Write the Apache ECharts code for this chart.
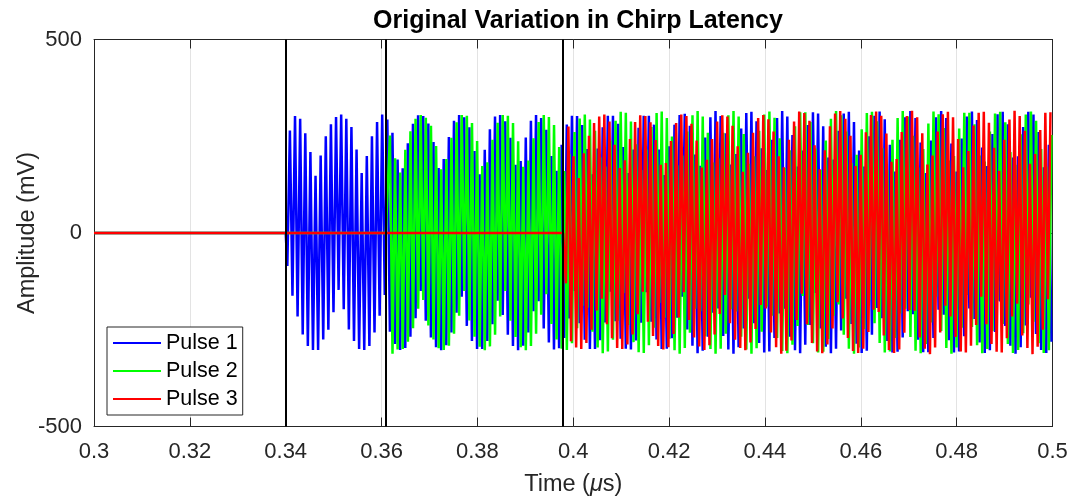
<!DOCTYPE html>
<html>
<head>
<meta charset="utf-8">
<script src="https://cdn.jsdelivr.net/npm/echarts@6/dist/echarts.min.js"></script>
<style>
  html, body { margin: 0; padding: 0; background: #fff; }
  #chart { width: 1073px; height: 496px; }
</style>
</head>
<body>
<div id="chart"></div>
<script>
const seriesNames = ['Pulse 1', 'Pulse 2', 'Pulse 3'];
const seriesColors = ['#0000ff', '#00ff00', '#ff0000'];

// pulse onsets (black markers) and time of the first extremum of each pulse, in us
const pulseStart = [0.34, 0.3609, 0.3979];
const firstExtremum = [0.34034, 0.36175, 0.39846];
// spacing between successive extrema (half a carrier period)
const halfPeriod = 0.000535;

const xTickLabels = ['0.3', '0.32', '0.34', '0.36', '0.38', '0.4', '0.42', '0.44', '0.46', '0.48', '0.5'];
const yTickLabels = ['-500', '0', '500'];

// successive extrema (mV), trough first
const pulse1 = [
  -85,265, -162,302, -216,295, -262,258, -292,209, -302,148, -302,200, -275,250, -250,281, -205,300,
  -147,306, -197,295, -249,274, -279,216, -300,155, -302,199, -292,250, -257,287, -214,306, -160,293,
  -255,259, -287,190, -302,167, -297,232, -268,282, -220,304, -150,302, -227,283, -270,235, -295,168,
  -303,191, -290,248, -257,290, -206,305, -165,299, -240,273, -279,212, -300,152, -300,215, -279,268,
  -236,301, -175,305, -212,289, -263,246, -292,176, -303,186, -291,247, -257,290, -202,305, -176,297,
  -247,267, -283,199, -301,161, -298,228, -271,280, -221,303, -150,302, -233,279, -276,217, -300,152,
  -300,218, -277,273, -231,303, -152,303, -228,282, -273,222, -299,155, -301,216, -278,272, -232,303,
  -153,303, -229,280, -275,216, -300,150, -299,224, -272,280, -219,305, -165,308, -249,277, -291,203,
  -311,174, -304,247, -268,299, -206,315, -195,302, -266,258, -301,177, -312,204, -295,270, -247,310,
  -170,313, -233,289, -284,219, -309,163, -306,241, -271,297, -208,315, -196,301, -268,253, -303,172,
  -311,213, -289,279, -238,312, -155,309, -247,276, -294,195, -311,190, -299,264, -252,309, -170,313,
  -235,287, -286,213, -310,172, -304,250, -263,303, -194,314, -220,294, -279,228, -309,159, -307,241,
  -270,299, -202,315, -210,297, -276,234, -308,155, -308,239, -271,299, -198,315, -211,297, -277,231,
  -309,159, -306,244, -267,301, -195,314, -222,292, -283,221, -310,173, -303,256, -256,307, -177,313,
  -240,281, -291,195, -312,198, -295,274, -239,313, -167,306, -261,261, -302,170, -310,228, -281
];

// peak first
const pulse2 = [
  252,-312, 193,-301, 156,-300, 215,-281, 263,-246, 295,-196, 305,-173, 298,-239, 277,-275, 225,-298,
  165,-302, 191,-291, 246,-260, 286,-214, 305,-150, 303,-226, 284,-268, 238,-294, 173,-303, 183,-293,
  241,-263, 285,-216, 305,-150, 303,-227, 284,-269, 237,-295, 171,-303, 187,-292, 245,-260, 287,-211,
  305,-158, 300,-235, 279,-275, 222,-299, 160,-302, 205,-285, 261,-246, 296,-188, 306,-193, 293,-255,
  264,-296, 196,-311, 172,-306, 239,-276, 290,-227, 313,-155, 311,-238, 288,-282, 229,-308, 163,-310,
  216,-290, 274,-245, 310,-181, 314,-219, 297,-273, 249,-303, 175,-312, 200,-297, 262,-258, 304,-196,
  315,-202, 301,-267, 259,-300, 182,-312, 193,-299, 259,-260, 304,-197, 315,-203, 301,-268, 256,-301,
  179,-312, 198,-298, 264,-255, 306,-190, 314,-214, 298,-271, 245,-305, 168,-311, 214,-289, 276,-240,
  312,-163, 312,-238, 287,-285, 218,-309, 163,-307, 239,-274, 295,-214, 315,-185, 304,-263, 262,-299,
  181,-312, 202,-296, 268,-248, 310,-173, 313,-233, 289,-284, 219,-309, 163,-306, 241,-271, 297,-208,
  315,-196, 301,-269, 251,-304, 169,-311, 217,-287, 283,-231, 314,-165, 307,-253, 271,-297, 187,-312,
  199,-296, 270,-245, 311,-160, 311,-243, 281,-290, 200,-311, 185,-300, 262,-253, 309,-175, 313,-235,
  286,-287, 209,-310, 176,-302, 255,-259, 306,-185, 314,-229, 290,-285, 217,-310, 172,-303, 253
];

// trough first
const pulse3 = [
  -130,275, -280,198, -296,142, -300,206, -284,251, -250,284, -200,301, -170,306, -236,288, -272,228,
  -297,168, -300,188, -288,243, -262,287, -210,304, -152,302, -229,286, -266,240, -292,176, -301,181,
  -295,238, -261,284, -218,306, -153,302, -225,282, -270,239, -293,169, -302,189, -290,243, -262,288,
  -209,304, -160,301, -233,277, -276,224, -297,158, -303,207, -283,259, -248,297, -186,305, -195,294,
  -257,262, -295,198, -312,170, -304,241, -278,288, -225,314, -157,310, -236,290, -284,227, -306,165,
  -311,214, -288,276, -247,309, -179,315, -221,295, -271,251, -305,173, -310,202, -299,260, -256,305,
  -198,314, -204,303, -265,257, -302,184, -310,191, -301,261, -258,302, -199,316, -201,299, -270,258,
  -299,177, -313,200, -296,262, -257,307, -188,313, -216,299, -269,243, -306,170, -309,212, -291,278,
  -238,311, -165,313, -236,285, -287,220, -307,161, -309,241, -272,293, -216,316, -183,302, -265,264,
  -297,179, -313,204, -294,266, -250,311, -171,312
];

const pulses = [pulse1, pulse2, pulse3];

// flat baseline until the pulse arrives, then the extrema
function buildData(idx) {
  const pts = [[0.3, 0], [pulseStart[idx], 0]];
  pulses[idx].forEach((v, i) => {
    pts.push([firstExtremum[idx] + i * halfPeriod, v]);
  });
  return pts;
}

const chart = echarts.init(document.getElementById('chart'), null, { renderer: 'canvas' });

const font = 'Liberation Sans, Arial, Helvetica, sans-serif';
const axisColor = '#262626';
const gridColor = '#e3e3e3';

const series = seriesNames.map((name, i) => ({
  name: name,
  type: 'line',
  data: buildData(i),
  showSymbol: false,
  symbol: 'none',
  clip: true,
  z: 2 + i,
  itemStyle: { color: seriesColors[i] },
  lineStyle: { color: seriesColors[i], width: 2.5 }
}));

// black onset markers drawn above the traces
series.push({
  name: 'onsets',
  type: 'line',
  data: [],
  z: 10,
  markLine: {
    silent: true,
    precision: 5,
    symbol: ['none', 'none'],
    label: { show: false },
    lineStyle: { color: '#000', width: 2, type: 'solid' },
    data: pulseStart.map(x => ({ xAxis: x }))
  }
});

function boxAxis(extra) {
  return Object.assign({
    type: 'value',
    nameMoveOverlap: false,
    axisLine: { show: true, onZero: false, lineStyle: { color: axisColor, width: 1 } },
    axisTick: { show: true, inside: true, length: 9, lineStyle: { color: axisColor } },
    axisLabel: { show: false },
    splitLine: { show: false }
  }, extra);
}

const nameStyle = { fontFamily: font, fontSize: 23.5, color: axisColor };

const option = {
  animation: false,
  backgroundColor: '#fff',
  title: {
    text: 'Original Variation in Chirp Latency',
    left: 573,
    top: 4,
    textAlign: 'center',
    textStyle: { fontFamily: font, fontSize: 25, fontWeight: 'bold', color: '#000' }
  },
  legend: {
    data: seriesNames,
    orient: 'vertical',
    left: 107,
    top: 327,
    padding: [5, 5, 5, 6],
    itemGap: 6,
    itemWidth: 48,
    itemHeight: 2,
    icon: 'rect',
    backgroundColor: '#fff',
    borderColor: axisColor,
    borderWidth: 1,
    textStyle: { fontFamily: font, fontSize: 21.5, color: '#000' }
  },
  grid: {
    left: 94, right: 20.5, top: 39.5, bottom: 69.5,
    containLabel: false,
    outerBoundsMode: 'none'
  },
  xAxis: [
    boxAxis({
      position: 'bottom',
      min: 0.3,
      max: 0.5,
      interval: 0.02,
      name: '{n|Time (}{i|μ}{n|s)}',
      nameLocation: 'middle',
      nameGap: 46,
      nameTextStyle: Object.assign({}, nameStyle, {
        rich: {
          n: nameStyle,
          i: Object.assign({}, nameStyle, { fontStyle: 'italic' })
        }
      }),
      axisLabel: {
        show: true, fontFamily: font, fontSize: 22, color: axisColor, margin: 14,
        formatter: v => xTickLabels[Math.round((v - 0.3) / 0.02)]
      },
      splitLine: { show: true, lineStyle: { color: gridColor, width: 1 } }
    }),
    boxAxis({ position: 'top', min: 0.3, max: 0.5, interval: 0.02 })
  ],
  yAxis: [
    boxAxis({
      position: 'left',
      min: -500,
      max: 500,
      interval: 500,
      name: 'Amplitude (mV)',
      nameLocation: 'middle',
      nameGap: 54,
      nameTextStyle: nameStyle,
      axisLabel: {
        show: true, fontFamily: font, fontSize: 22, color: axisColor, margin: 12,
        formatter: v => yTickLabels[Math.round((v + 500) / 500)]
      }
    }),
    boxAxis({ position: 'right', min: -500, max: 500, interval: 500 })
  ],
  series: series
};

chart.setOption(option);
</script>
</body>
</html>
